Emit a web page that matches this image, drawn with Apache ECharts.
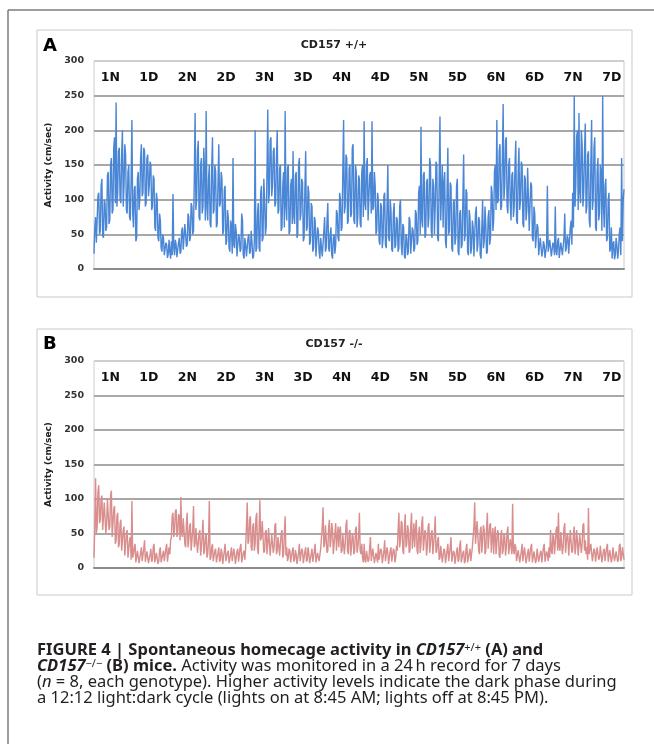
<!DOCTYPE html>
<html>
<head>
<meta charset="utf-8">
<script src="https://cdn.jsdelivr.net/npm/echarts@6/dist/echarts.min.js"></script>
<style>
html,body{margin:0;padding:0;background:#fff;}
#chart{width:654px;height:744px;}
</style>
</head>
<body>
<div id="chart"></div>
<script>
// ---- data ----
const dayLabels = ['1N','1D','2N','2D','3N','3D','4N','4D','5N','5D','6N','6D','7N','7D'];
const yMin = 0, yMax = 300, yStep = 50;
const panelTitles = ['CD157 +/+', 'CD157 -/-'];
const panelLetters = ['A', 'B'];
const yAxisName = 'Activity (cm/sec)';

// CD157 +/+ activity (cm/sec), 15-min bins over 7 days (48 values per 12 h phase)
const wildType = [
  22,60, 75,38, 40,105, 110,50, 55,120, 130,48, 45,100, 95,55, 60,135, 140,65, 70,150, 160,80, 85,175, 190,95, 240,90, 110,170, 175,100, 95,165, 200,90, 120,180, 165,85, 80,140, 150,75, 70,130,
  215,80, 60,115, 120,40, 45,130, 140,85, 100,160, 180,105, 110,175, 170,90, 95,160, 165,105, 120,155, 150,85, 90,135, 130,60, 55,110, 100,45, 40,80, 70,30, 25,50, 45,20, 18,38, 35,16, 22,42,
  25,15, 40,20, 108,30, 20,42, 35,17, 18,38, 45,22, 25,55, 60,28, 30,65, 50,32, 35,80, 75,40, 45,95, 90,50, 55,130, 225,85, 100,170, 185,75, 70,150, 160,80, 90,175, 140,70, 228,90,
  70,130, 150,65, 60,145, 190,80, 85,150, 140,60, 65,125, 180,90, 95,140, 130,50, 55,115, 120,35, 40,85, 75,30, 25,70, 60,22, 160,35, 30,65, 55,18, 20,50, 45,25, 28,80, 70,20, 15,45,
  35,18, 20,45, 50,22, 25,55, 40,15, 18,40, 200,25, 30,80, 95,30, 25,110, 120,40, 45,130, 100,50, 60,140, 230,95, 110,185, 190,105, 120,170, 175,90, 95,160, 200,80, 85,145, 150,55, 60,120,
  140,60, 228,90, 70,145, 150,50, 55,120, 130,65, 170,75, 65,135, 140,45, 50,150, 160,70, 80,130, 125,40, 45,115, 170,55, 60,120, 110,35, 40,95, 90,25, 30,75, 70,18, 20,60, 55,25, 15,45,
  45,18, 20,55, 75,25, 30,70, 95,30, 25,50, 60,20, 15,45, 50,22, 35,85, 80,45, 40,110, 100,55, 60,140, 215,80, 90,165, 160,65, 70,145, 150,75, 80,175, 180,70, 65,150, 140,60, 75,135,
  130,65, 60,140, 150,75, 213,95, 85,150, 160,70, 70,135, 140,80, 213,85, 90,140, 120,50, 55,110, 100,40, 35,95, 90,30, 45,105, 110,35, 30,90, 150,45, 40,100, 85,28, 25,80, 95,30, 35,75,
  70,25, 30,90, 100,35, 20,65, 60,18, 15,50, 45,20, 25,75, 70,22, 20,60, 55,25, 30,85, 80,35, 40,110, 120,50, 205,70, 60,135, 140,45, 50,125, 130,60, 75,160, 150,55, 45,130, 120,50,
  90,155, 150,45, 40,130, 220,70, 110,150, 60,125, 140,40, 30,110, 175,50, 55,125, 120,30, 25,95, 100,35, 45,120, 130,25, 20,80, 85,30, 35,100, 165,40, 50,115, 110,25, 20,85, 75,22, 30,70,
  60,18, 20,80, 90,25, 35,75, 70,20, 15,60, 100,30, 40,90, 65,22, 25,75, 85,35, 45,120, 110,55, 70,140, 150,85, 215,95, 100,170, 180,85, 90,160, 238,100, 120,185, 190,90, 80,150, 160,95,
  70,135, 140,75, 90,150, 185,70, 65,140, 175,85, 100,155, 150,65, 60,135, 130,70, 85,146, 145,55, 55,125, 120,45, 40,90, 80,30, 30,65, 60,20, 20,45, 45,18, 25,40, 35,16, 15,35, 120,25,
  25,42, 40,18, 18,38, 35,20, 90,25, 20,40, 45,16, 15,38, 38,20, 22,45, 80,25, 30,48, 45,22, 20,60, 70,35, 110,60, 250,90, 120,190, 200,85, 225,110, 95,200, 180,90, 110,170, 210,80,
  90,165, 170,70, 60,150, 215,85, 100,175, 190,60, 55,140, 160,70, 80,150, 140,55, 250,90, 60,120, 130,40, 45,100, 110,25, 30,60, 15,35, 40,14, 20,45, 35,15, 25,50, 60,20, 160,40, 100,115
];

// CD157 -/- activity (cm/sec), 15-min bins over 7 days (48 values per 12 h phase)
const knockout = [
  15,60, 130,50, 60,110, 120,65, 70,100, 105,55, 55,95, 95,50, 65,100, 100,55, 60,105, 112,45, 45,85, 90,35, 40,75, 80,30, 35,65, 70,25, 25,55, 60,18, 20,50, 55,15, 15,40, 45,12,
  97,15, 20,30, 35,8, 10,25, 25,7, 8,22, 30,10, 12,28, 40,9, 10,24, 22,7, 6,20, 28,9, 12,30, 35,8, 8,22, 20,6, 10,25, 30,8, 7,20, 25,10, 12,28, 35,9, 10,30,
  20,40, 45,75, 80,45, 55,82, 85,45, 50,78, 75,40, 103,50, 45,72, 70,35, 30,65, 80,30, 40,60, 65,25, 25,55, 90,30, 35,58, 60,22, 20,50, 55,18, 30,48, 70,20, 25,45, 50,15,
  20,40, 97,12, 15,30, 35,10, 10,25, 28,8, 6,22, 30,9, 12,28, 22,6, 8,25, 35,10, 10,22, 25,7, 6,20, 30,10, 12,28, 20,6, 8,24, 28,9, 10,30, 35,8, 7,22, 25,12,
  30,60, 95,35, 40,70, 75,30, 25,60, 65,25, 35,72, 80,28, 20,55, 98,40, 45,68, 70,22, 25,52, 55,20, 35,58, 60,18, 20,48, 50,22, 30,62, 65,20, 25,45, 45,18, 35,50, 55,15,
  20,50, 75,18, 30,10, 15,28, 25,8, 8,24, 30,9, 12,26, 20,6, 6,22, 35,10, 10,28, 25,7, 8,24, 30,9, 12,30, 22,7, 7,20, 28,9, 10,25, 35,8, 8,22, 20,10, 12,28,
  30,60, 88,30, 35,62, 60,22, 25,58, 70,30, 40,65, 55,20, 20,50, 65,25, 45,60, 30,55, 60,22, 25,48, 50,20, 35,62, 70,25, 20,52, 55,18, 30,50, 45,20, 25,55, 60,22, 30,45,
  80,25, 20,35, 15,8, 35,12, 8,25, 25,9, 12,30, 45,10, 10,28, 30,7, 6,22, 20,8, 35,12, 10,28, 25,7, 8,24, 40,10, 12,30, 22,6, 6,25, 30,9, 10,28, 25,8, 15,32,
  25,55, 80,30, 40,68, 65,25, 20,58, 78,30, 35,62, 55,22, 25,60, 80,28, 45,65, 30,55, 70,25, 20,50, 60,22, 35,65, 75,25, 25,55, 50,18, 30,60, 65,22, 20,50, 55,20, 35,48,
  75,22, 25,40, 45,12, 15,32, 30,8, 10,28, 25,7, 8,26, 35,10, 12,30, 45,9, 10,25, 22,6, 7,24, 30,9, 12,32, 40,8, 8,22, 25,7, 10,28, 35,8, 6,22, 28,10, 12,30,
  30,60, 95,35, 35,68, 70,25, 20,55, 60,22, 40,62, 55,20, 25,58, 80,28, 30,62, 65,22, 45,58, 20,48, 60,20, 35,55, 50,18, 15,45, 55,20, 25,50, 45,18, 30,52, 60,20, 20,42,
  40,20, 93,25, 20,35, 30,10, 10,26, 25,8, 8,24, 35,10, 12,30, 20,7, 6,22, 28,9, 10,30, 35,8, 8,24, 22,7, 12,28, 30,9, 7,22, 25,8, 10,30, 35,9, 8,24, 20,10,
  30,15, 55,25, 20,48, 45,20, 35,55, 60,25, 80,30, 25,52, 50,20, 30,58, 65,22, 20,50, 45,18, 35,55, 55,22, 25,50, 60,20, 30,55, 40,18, 20,48, 50,22, 35,62, 65,25, 40,20,
  30,12, 87,20, 20,35, 35,10, 12,28, 25,9, 10,30, 30,12, 15,32, 22,8, 8,25, 28,10, 12,30, 35,9, 10,26, 25,8, 15,30, 30,10, 8,24, 22,9, 12,32, 35,10, 15,30, 30,12
];

const timeIndex = wildType.map((_, i) => String(i));

// ---- chart ----
const chart = echarts.init(document.getElementById('chart'), null, {renderer: 'canvas', width: 654, height: 744});

const FONT = 'DejaVu Sans';
const gridColors = ['#8f8f8f', '#a8a8a8', '#a8a8a8', '#a8a8a8', '#a8a8a8', '#a8a8a8', '#cfcfcf'];

function panelAxes(top, height, gi) {
  return {
    grids: [
      {left: 94, top: top, width: 530, height: height, show: true, borderColor: '#cccccc', borderWidth: 1, backgroundColor: 'transparent'},
      {left: 91, top: top, width: 540, height: height}
    ],
    xAxes: [
      {gridIndex: gi, type: 'category', data: timeIndex, boundaryGap: false,
       axisLine: {show: true, lineStyle: {color: '#8c8c8c', width: 2}},
       axisTick: {show: false}, axisLabel: {show: false}, splitLine: {show: false}},
      {gridIndex: gi + 1, type: 'category', data: dayLabels, position: 'top',
       axisLine: {show: false}, axisTick: {show: false}, splitLine: {show: false},
       axisLabel: {inside: true, margin: 10, fontFamily: FONT, fontWeight: 'bold', fontSize: 12.5, color: '#111'}}
    ],
    yAxes: [
      {gridIndex: gi, type: 'value', min: yMin, max: yMax, interval: yStep,
       axisLine: {show: false}, axisTick: {show: false},
       axisLabel: {fontFamily: FONT, fontWeight: 'bold', fontSize: 9.5, color: '#333', margin: 10},
       splitLine: {show: true, lineStyle: {color: gridColors, width: 2}},
       name: yAxisName, nameLocation: 'middle', nameGap: 30, nameRotate: 90,
       nameTextStyle: {fontFamily: FONT, fontWeight: 'bold', fontSize: 9, color: '#222'}},
      {gridIndex: gi + 1, type: 'value', show: false, min: yMin, max: yMax}
    ]
  };
}

const pA = panelAxes(61, 208, 0);
const pB = panelAxes(361, 207, 2);

const capFont = 'Noto Sans';
const CS = 16.5;
const capRich = {
  b: {fontFamily: capFont, fontWeight: 'bold', fontSize: CS, color: '#231f20', lineHeight: 16},
  bi: {fontFamily: capFont, fontWeight: 'bold', fontStyle: 'italic', fontSize: CS, color: '#231f20', lineHeight: 16},
  r: {fontFamily: capFont, fontSize: CS, color: '#231f20', lineHeight: 16},
  i: {fontFamily: capFont, fontStyle: 'italic', fontSize: CS, color: '#231f20', lineHeight: 16},
  sup: {fontFamily: capFont, fontSize: 11, color: '#231f20', lineHeight: 6, verticalAlign: 'top'}
};
function capLine(y, text) {
  return {type: 'text', x: 37, y: y, silent: true,
    style: {text: text, rich: capRich, align: 'left', verticalAlign: 'middle', fill: '#231f20', font: CS + 'px ' + capFont}};
}

const option = {
  animation: false,
  backgroundColor: '#ffffff',
  grid: [pA.grids[0], pA.grids[1], pB.grids[0], pB.grids[1]],
  xAxis: [pA.xAxes[0], pA.xAxes[1], pB.xAxes[0], pB.xAxes[1]],
  yAxis: [pA.yAxes[0], pA.yAxes[1], pB.yAxes[0], pB.yAxes[1]],
  series: [
    {name: panelTitles[0], type: 'line', xAxisIndex: 0, yAxisIndex: 0, data: wildType,
     showSymbol: false, symbol: 'none', sampling: null, lineStyle: {color: '#4a86d6', width: 1.4}, z: 3},
    {name: panelTitles[1], type: 'line', xAxisIndex: 2, yAxisIndex: 2, data: knockout,
     showSymbol: false, symbol: 'none', sampling: null, lineStyle: {color: '#d98d8d', width: 1.4}, z: 3}
  ],
  graphic: [
    // outer figure frame
    {type: 'line', silent: true, shape: {x1: 8, y1: 10, x2: 654, y2: 10}, style: {stroke: '#7d7d7d', lineWidth: 1.5}},
    {type: 'line', silent: true, shape: {x1: 8, y1: 10, x2: 8, y2: 744}, style: {stroke: '#7d7d7d', lineWidth: 1.5}},
    // panel boxes
    {type: 'rect', silent: true, z: -1, shape: {x: 37, y: 30, width: 595, height: 267}, style: {fill: 'none', stroke: '#c9c9c9', lineWidth: 1}},
    {type: 'rect', silent: true, z: -1, shape: {x: 37, y: 329, width: 595, height: 266}, style: {fill: 'none', stroke: '#c9c9c9', lineWidth: 1}},
    // panel letters
    {type: 'text', x: 43, y: 46, silent: true, style: {text: panelLetters[0], font: 'bold 18px ' + FONT, fill: '#000', align: 'left', verticalAlign: 'middle'}},
    {type: 'text', x: 43, y: 344, silent: true, style: {text: panelLetters[1], font: 'bold 18px ' + FONT, fill: '#000', align: 'left', verticalAlign: 'middle'}},
    // panel titles
    {type: 'text', x: 334, y: 45, silent: true, style: {text: panelTitles[0], font: 'bold 11px ' + FONT, fill: '#222', align: 'center', verticalAlign: 'middle'}},
    {type: 'text', x: 334, y: 344, silent: true, style: {text: panelTitles[1], font: 'bold 11px ' + FONT, fill: '#222', align: 'center', verticalAlign: 'middle'}},
    // caption
    capLine(650, '{b|FIGURE 4 | Spontaneous homecage activity in }{bi|CD157}{sup|+/+}{b| (A) and}'),
    capLine(666, '{bi|CD157}{sup|\u2212/\u2212}{b| (B) mice.}{r| Activity was monitored in a 24\u2009h record for 7 days}'),
    capLine(682, '{r|(}{i|n}{r| = 8, each genotype). Higher activity levels indicate the dark phase during}'),
    capLine(698, '{r|a 12:12 light:dark cycle (lights on at 8:45 AM; lights off at 8:45 PM).}')
  ]
};
chart.setOption(option);
</script>
</body>
</html>
